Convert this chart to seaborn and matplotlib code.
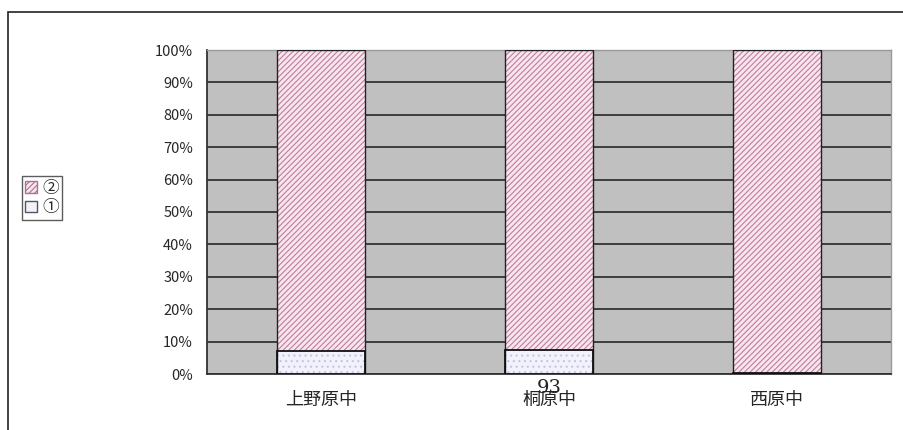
import matplotlib
matplotlib.use("Agg")
import matplotlib.pyplot as plt
from matplotlib.patches import Rectangle, Patch
import seaborn as sns
import pandas as pd

schools = ["上野原中", "桐原中", "西原中"]
share_1 = [7.0, 7.5, 0.3]
share_2 = [93.0, 92.5, 99.7]
y_ticks = list(range(0, 101, 10))

sns.set_style("white")
plt.rcParams['font.family'] = ['Noto Sans CJK JP', 'DejaVu Sans']
plt.rcParams['hatch.linewidth'] = 0.8

df = pd.DataFrame({'school': schools, 'one': share_1, 'two': share_2})
df['total'] = df['one'] + df['two']

fig = plt.figure(figsize=(9.04, 4.30), dpi=100)
ax = fig.add_axes([207 / 904, 1 - 374 / 430, 684 / 904, 324 / 430])
ax.set_facecolor('#c0c0c0')

# ② fill with pink hatch (hatch takes the edge colour)
sns.barplot(data=df, x='school', y='total', color='#f7e6ee', width=0.39,
            edgecolor='#c07c9c', linewidth=0, hatch='//////', ax=ax,
            saturation=1, zorder=3)
# ① fill with faint lavender dots
sns.barplot(data=df, x='school', y='one', color='#f2f2fc', width=0.39,
            edgecolor='#c4c4e4', linewidth=0, hatch='...', ax=ax,
            saturation=1, zorder=4)
# black outlines
sns.barplot(data=df, x='school', y='total', fill=False, width=0.39,
            edgecolor='#222222', linewidth=1.0, ax=ax, zorder=5)
sns.barplot(data=df, x='school', y='one', fill=False, width=0.39,
            edgecolor='#111111', linewidth=1.3, ax=ax, zorder=6)

ax.set_ylim(0, 100)
ax.set_xlim(-0.5, 2.5)
ax.set_yticks(y_ticks)
ax.set_yticklabels([f"{t}%" for t in y_ticks], fontsize=10.5)
ax.yaxis.grid(True, color='#1a1a1a', linewidth=1.1, zorder=1)
ax.set_axisbelow(True)
ax.set_xlabel('')
ax.set_ylabel('')
ax.set_xticks([0, 1, 2])
ax.set_xticklabels(schools, fontsize=13)
ax.set_xticks([0.5, 1.5], minor=True)
ax.tick_params(axis='x', which='major', length=0, pad=12)
ax.tick_params(axis='x', which='minor', length=4, width=1.5, direction='in', color='#222222')
ax.tick_params(axis='y', length=0, pad=10)
for side in ['left', 'bottom']:
    ax.spines[side].set_color('#333333')
    ax.spines[side].set_linewidth(1.3)
for side in ['top', 'right']:
    ax.spines[side].set_color('#999999')
    ax.spines[side].set_linewidth(1.0)

# legend
handles = [Patch(facecolor='#f7e6ee', edgecolor='#b07090', hatch='//////', label='②'),
           Patch(facecolor='#f2f2fc', edgecolor='#555555', label='①')]
leg = fig.legend(handles=handles, loc='center left', bbox_to_anchor=(22 / 904, 1 - 198 / 430),
                 frameon=True, fancybox=False, edgecolor='#333333', fontsize=12,
                 handlelength=0.7, handleheight=0.7, handletextpad=0.3,
                 borderpad=0.2, labelspacing=0.15, borderaxespad=0)
leg.get_frame().set_linewidth(1.0)

# outer chart border (right and bottom run off the picture)
fig.patches.append(Rectangle((8 / 904, -0.05), 1.2, 1 - 12 / 430 + 0.05,
                             transform=fig.transFigure, fill=False,
                             edgecolor='#222222', linewidth=1.2))

# page number overlapping the axis label
fig.text(549 / 904, 1 - 388 / 430, '93', fontsize=14, family='DejaVu Serif',
         ha='center', va='center', color='#222222')

fig.savefig('out.png', dpi=100)
